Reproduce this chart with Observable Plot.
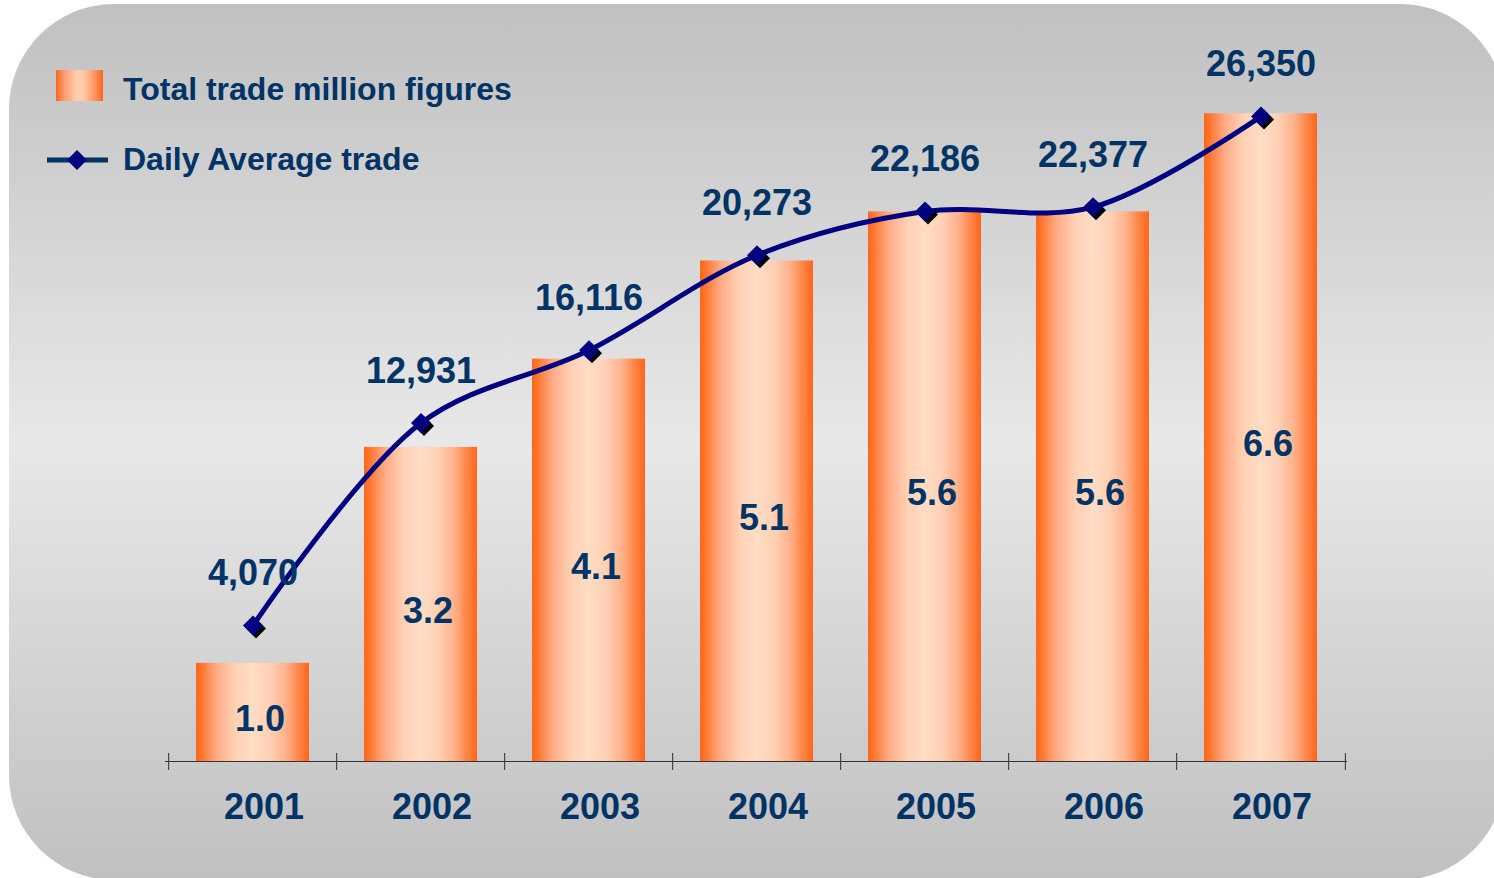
<!DOCTYPE html>
<html>
<head>
<meta charset="utf-8">
<script src="https://cdn.jsdelivr.net/npm/d3@7"></script>
<script src="https://cdn.jsdelivr.net/npm/@observablehq/plot@0.6"></script>
<style>
  html, body { margin: 0; padding: 0; background: #ffffff; }
  #wrap { position: relative; width: 1494px; height: 878px; overflow: hidden; }
  #bg { position: absolute; left: 9px; top: 4px; width: 1496px; height: 876px; border-radius: 105px;
        background: linear-gradient(to bottom, #c0c0c0 0%, #e8e8e8 50%, #c0c0c0 100%); }
  #chart { position: absolute; left: 0; top: 0; }
  #legend { position: absolute; left: 0; top: 0; }
</style>
</head>
<body>
<div id="wrap">
  <div id="bg"></div>
  <div id="chart"></div>
  <svg id="legend" width="600" height="200" xmlns="http://www.w3.org/2000/svg">
    <defs>
      <linearGradient id="legGrad" x1="0" x2="1" y1="0" y2="0">
        <stop offset="0%" stop-color="#ff6619"/>
        <stop offset="18%" stop-color="#ff9c70"/>
        <stop offset="45%" stop-color="#ffcfb0"/>
        <stop offset="60%" stop-color="#ffc8a6"/>
        <stop offset="82%" stop-color="#ff9460"/>
        <stop offset="100%" stop-color="#ff6619"/>
      </linearGradient>
    </defs>
    <rect x="56" y="70" width="47" height="31" fill="url(#legGrad)"/>
    <text x="123" y="100" font-family="'Liberation Sans', Arial, Helvetica, sans-serif" font-weight="bold" font-size="32" fill="#003366">Total trade million figures</text>
    <line x1="47" x2="108" y1="160" y2="160" stroke="#003366" stroke-width="5"/>
    <polygon points="77,150 87,160 77,170 67,160" fill="#000080"/>
    <text x="123" y="170" font-family="'Liberation Sans', Arial, Helvetica, sans-serif" font-weight="bold" font-size="32" fill="#003366">Daily Average trade</text>
  </svg>
</div>
<script>
// ---- data ----
const years = ["2001", "2002", "2003", "2004", "2005", "2006", "2007"];
const totalTrade = [1.0, 3.2, 4.1, 5.1, 5.6, 5.6, 6.6];           // million figures (bars)
const dailyAverage = [4070, 12931, 16116, 20273, 22186, 22377, 26350]; // daily average trade (line)

const data = years.map((year, i) => ({ year, total: totalTrade[i], daily: dailyAverage[i] }));

// ---- layout ----
const W = 1494, H = 878;
const mL = 165, mR = 147, mT = 74, mB = 117;
const step = (W - mL - mR) / years.length;
// secondary axis for the line, mapped onto the bar axis
const dailyToBar = d3.scaleLinear().domain([0, 30000]).range([0.438, 7.423]);
const font = "'Liberation Sans', Arial, Helvetica, sans-serif";
const textColor = "#003366";
const tickSymbol = { draw(ctx) { ctx.moveTo(0, -8.5); ctx.lineTo(0, 8.5); } };

const plot = Plot.plot({
  width: W,
  height: H,
  marginLeft: mL,
  marginRight: mR,
  marginTop: mT,
  marginBottom: mB,
  x: { type: "band", domain: years, paddingInner: 0.33, paddingOuter: 0.165, axis: null },
  y: { domain: [0, 7], axis: null },
  style: { background: "transparent", overflow: "visible" },
  marks: [
    Plot.barY(data, { x: "year", y: "total", fill: "url(#barGrad)" }),
    Plot.text(data, {
      x: "year", y: d => d.total / 2, text: d => d3.format(".1f")(d.total),
      dx: 7, dy: 7, fontSize: 36, fontWeight: "bold", fontFamily: font, fill: textColor
    }),
    Plot.ruleY([0], { stroke: "#333333", strokeWidth: 1.2 }),
    Plot.dot(years, { x: d => d, y: () => 0, dx: -step / 2, symbol: tickSymbol, stroke: "#444444", strokeWidth: 1.2 }),
    Plot.dot(years.slice(-1), { x: d => d, y: () => 0, dx: step / 2, symbol: tickSymbol, stroke: "#444444", strokeWidth: 1.2 }),
    Plot.line(data, {
      x: "year", y: d => dailyToBar(d.daily), curve: "catmull-rom",
      stroke: "#000080", strokeWidth: 5
    }),
    Plot.dot(data, {
      x: "year", y: d => dailyToBar(d.daily), symbol: "diamond2", r: 9,
      fill: "#000000", stroke: "none", dx: 3, dy: 3
    }),
    Plot.dot(data, {
      x: "year", y: d => dailyToBar(d.daily), symbol: "diamond2", r: 9,
      fill: "#000080", stroke: "none"
    }),
    Plot.text(data, {
      x: "year", y: d => dailyToBar(d.daily), text: d => d3.format(",")(d.daily),
      dy: -52, fontSize: 36, fontWeight: "bold", fontFamily: font, fill: textColor
    }),
    Plot.text(years, {
      x: d => d, y: () => 0, text: d => d,
      dx: 11, dy: 46, fontSize: 36, fontWeight: "bold", fontFamily: font, fill: textColor
    })
  ]
});

const svg = plot.tagName.toLowerCase() === "svg" ? plot : plot.querySelector("svg");
const ns = "http://www.w3.org/2000/svg";
const defs = document.createElementNS(ns, "defs");
const grad = document.createElementNS(ns, "linearGradient");
grad.setAttribute("id", "barGrad");
grad.setAttribute("x1", "0"); grad.setAttribute("x2", "1");
grad.setAttribute("y1", "0"); grad.setAttribute("y2", "0");
[
  ["0%", "#ff6619"], ["6%", "#ff7a35"], ["18%", "#ffaa84"], ["35%", "#ffd2b6"],
  ["50%", "#ffdcc4"], ["65%", "#ffd2b6"], ["80%", "#ffb08a"], ["92%", "#ff8040"], ["100%", "#ff6619"]
].forEach(([o, c]) => {
  const s = document.createElementNS(ns, "stop");
  s.setAttribute("offset", o); s.setAttribute("stop-color", c);
  grad.appendChild(s);
});
defs.appendChild(grad);
svg.insertBefore(defs, svg.firstChild);

document.getElementById("chart").appendChild(plot);
</script>
</body>
</html>
